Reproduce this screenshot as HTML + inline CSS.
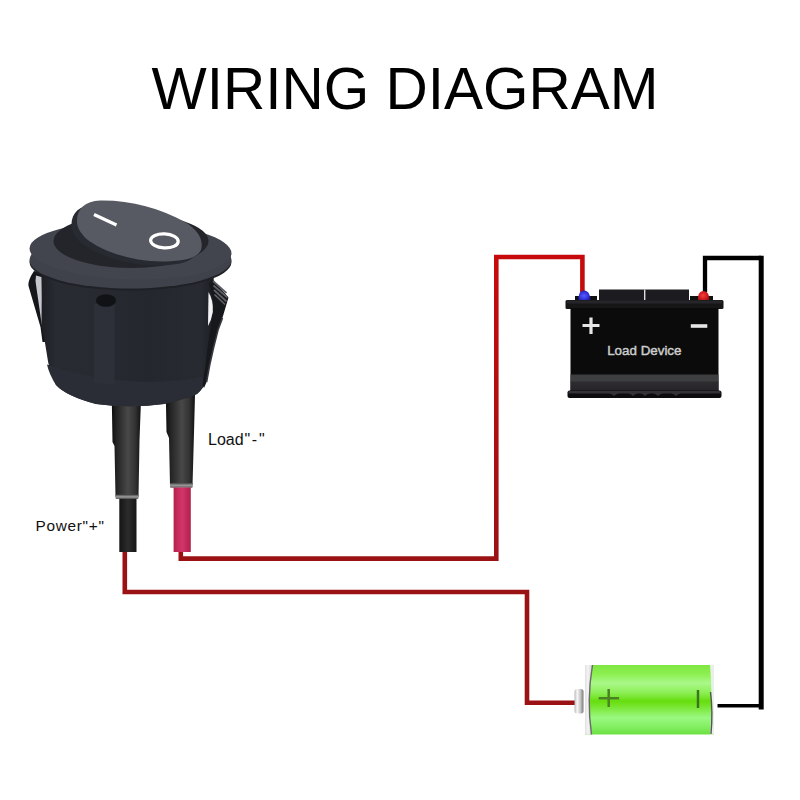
<!DOCTYPE html>
<html><head><meta charset="utf-8"><title>Wiring Diagram</title><style>
html,body{margin:0;padding:0;background:#fff;width:800px;height:800px;overflow:hidden;}
svg{display:block}
text{font-family:"Liberation Sans",sans-serif;}
</style></head><body>
<svg width="800" height="800" viewBox="0 0 800 800">
<defs>
<linearGradient id="gbat" x1="0" y1="0" x2="0" y2="1">
<stop offset="0" stop-color="#7ee640"/>
<stop offset="0.13" stop-color="#8cf050"/>
<stop offset="0.26" stop-color="#aaf88a"/>
<stop offset="0.4" stop-color="#8cef55"/>
<stop offset="0.52" stop-color="#66dd0e"/>
<stop offset="0.6" stop-color="#78e630"/>
<stop offset="0.76" stop-color="#9af882"/>
<stop offset="0.88" stop-color="#84f065"/>
<stop offset="1" stop-color="#6ee042"/>
</linearGradient>
<linearGradient id="gnub" x1="0" y1="0" x2="1" y2="0">
<stop offset="0" stop-color="#b8b8b8"/>
<stop offset="0.3" stop-color="#f8f8f8"/>
<stop offset="0.65" stop-color="#c8c8c8"/>
<stop offset="1" stop-color="#7a7a7a"/>
</linearGradient>
<linearGradient id="glcap" x1="0" y1="0" x2="1" y2="0">
<stop offset="0" stop-color="#e0e0e0"/>
<stop offset="0.4" stop-color="#f4f4f4"/>
<stop offset="1" stop-color="#cfcfcf"/>
</linearGradient>
<linearGradient id="gcap" x1="0" y1="0" x2="0" y2="1">
<stop offset="0" stop-color="#9a9a9a"/>
<stop offset="0.3" stop-color="#f4f4f4"/>
<stop offset="0.7" stop-color="#d8d8d8"/>
<stop offset="1" stop-color="#8a8a8a"/>
</linearGradient>
<linearGradient id="gpink" x1="0" y1="0" x2="1" y2="0">
<stop offset="0" stop-color="#b81e4c"/>
<stop offset="0.5" stop-color="#d3366a"/>
<stop offset="1" stop-color="#b0204c"/>
</linearGradient>
<radialGradient id="gblue" cx="0.45" cy="0.55" r="0.6">
<stop offset="0" stop-color="#5a5aff"/>
<stop offset="0.6" stop-color="#3434e0"/>
<stop offset="1" stop-color="#1a1a90"/>
</radialGradient>
<radialGradient id="gred" cx="0.45" cy="0.45" r="0.6">
<stop offset="0" stop-color="#f04040"/>
<stop offset="0.6" stop-color="#d41c1c"/>
<stop offset="1" stop-color="#901010"/>
</radialGradient>
<linearGradient id="gwire" gradientUnits="userSpaceOnUse" x1="0" y1="250" x2="0" y2="565">
<stop offset="0" stop-color="#c80a0c"/>
<stop offset="1" stop-color="#9a1214"/>
</linearGradient>
<linearGradient id="gbandlow" x1="0" y1="0" x2="0" y2="1">
<stop offset="0" stop-color="#2e2c30"/>
<stop offset="1" stop-color="#252327"/>
</linearGradient>
<linearGradient id="gbody" gradientUnits="userSpaceOnUse" x1="42" y1="0" x2="215" y2="0">
<stop offset="0" stop-color="#1d1f25"/>
<stop offset="0.08" stop-color="#292b33"/>
<stop offset="0.3" stop-color="#282a32"/>
<stop offset="0.6" stop-color="#25272f"/>
<stop offset="0.92" stop-color="#282a32"/>
<stop offset="1" stop-color="#1c1d22"/>
</linearGradient>
<linearGradient id="gring" x1="0" y1="0" x2="0" y2="1">
<stop offset="0" stop-color="#444"/>
<stop offset="0.5" stop-color="#9a9a9a"/>
<stop offset="1" stop-color="#5a5a5a"/>
</linearGradient>
<linearGradient id="glead2" x1="0" y1="0" x2="1" y2="0">
<stop offset="0" stop-color="#141414"/>
<stop offset="0.5" stop-color="#2c2c2c"/>
<stop offset="1" stop-color="#161616"/>
</linearGradient>
<linearGradient id="glead" x1="0" y1="0" x2="1" y2="0">
<stop offset="0" stop-color="#0e0e0e"/>
<stop offset="0.15" stop-color="#222"/>
<stop offset="0.55" stop-color="#484848"/>
<stop offset="0.8" stop-color="#333"/>
<stop offset="1" stop-color="#111"/>
</linearGradient>
</defs>

<!-- Title -->
<text x="151.6" y="108.6" font-size="58.5" fill="#000">WIRING DIAGRAM</text>

<!-- Wires -->
<g fill="none" stroke-linejoin="miter" stroke-linecap="butt">
<polyline points="180.8,552 180.8,558.6 496.3,558.6 496.3,257 582.4,257 582.4,292" stroke="url(#gwire)" stroke-width="4.6"/>
<polyline points="124.8,552 124.8,592 527,592 527,702.8 575,702.8" stroke="#9a1214" stroke-width="4.6"/>
<polyline points="705,292 705,258 761.2,258" stroke="#000" stroke-width="4.3"/>
<polyline points="761.2,255.85 761.2,709.5" stroke="#000" stroke-width="5"/>
<polyline points="717.5,705.8 761.2,705.8" stroke="#000" stroke-width="3.6"/>
</g>

<!-- Load device (car battery) -->
<g>
<rect x="599" y="289.5" width="90" height="12" fill="#1c1b20"/>
<rect x="644" y="289.5" width="1.4" height="11" fill="#ddd"/>
<rect x="575" y="296" width="22" height="5" fill="#111"/><path d="M578.5,300 Q578.5,293 581,291.5 Q584,289.5 587,291.5 Q590,293 590.5,300 Z" fill="url(#gblue)"/>
<rect x="690" y="296" width="23" height="5" fill="#111"/><path d="M698,301 Q697.5,294 700.5,292 Q703.5,290 706.5,292 Q709.5,294 709.2,301 Z" fill="url(#gred)"/>
<rect x="565.5" y="300" width="158" height="9" rx="1.5" fill="#161616"/><rect x="567" y="300.5" width="155" height="3" fill="#262529"/>
<rect x="570.5" y="308" width="148" height="84" fill="#0b0b0b"/>
<rect x="570.5" y="374.5" width="148" height="7.5" fill="#3c3e40"/>
<rect x="570.5" y="381.5" width="148" height="10" fill="url(#gbandlow)"/>
<rect x="567.5" y="390.5" width="154" height="7.5" rx="2" fill="#0c0b0e"/>
<path d="M568.5,391 L720.5,391 L720.5,393.5 L681,393.5 Q678,393.5 676,396 Q674,393.5 671,393.5 L663,393.5 Q660,393.5 658,396 Q656,393.5 653,393.5 L650,393.5 Q647,393.5 645,396 Q643,393.5 640,393.5 L638,393.5 Q635,393.5 633,396 Q631,393.5 628,393.5 L619,393.5 Q616,393.5 614,396 Q612,393.5 609,393.5 L568.5,393.5 Z" fill="#343236"/>
<path d="M582.5,325.5 h17 M591,317.5 v16.5" stroke="#e6e6e6" stroke-width="3.2"/>
<path d="M690.8,326 h16.5" stroke="#e6e6e6" stroke-width="3.6"/>
<text x="607.2" y="354.6" font-size="13.6" fill="#cdcdcd" stroke="#cdcdcd" stroke-width="0.45" textLength="74.3" lengthAdjust="spacingAndGlyphs">Load Device</text>
</g>

<!-- Battery (green) -->
<g>
<rect x="574.5" y="689" width="9" height="24.5" rx="2.5" fill="url(#gnub)"/>
<rect x="585" y="665" width="129" height="69.5" fill="url(#gbat)"/>
<path d="M585,665 L592.5,665 Q586.5,700 591.5,734.5 L585,734.5 Z" fill="url(#glcap)"/>
<path d="M592.5,665 Q586.5,700 591.5,734.5" fill="none" stroke="#6a6a6a" stroke-width="1.4"/>
<path d="M710,665 L714,665 L714,734.5 L710,734.5 Q713,700 710,665 Z" fill="#e8f0e8"/>
<path d="M710.5,692 Q713,712 711,734" fill="none" stroke="#555" stroke-width="1.4"/>
<path d="M598.7,698.3 h20.4 M608.7,688.9 v18" stroke="#4a8224" stroke-width="2.5"/>
<path d="M698,690 v18" stroke="#3d7420" stroke-width="2.5"/>
</g>

<!-- Leads -->
<g>
<path d="M111.8,400 L141,400 L139.5,440 L138.5,497 L115.5,497 L114.5,446 L112.5,442 Z" fill="url(#glead)"/>
<rect x="115.5" y="494.5" width="23" height="4.5" rx="1" fill="url(#gring)"/>
<rect x="119.3" y="498.8" width="17.2" height="53.2" fill="url(#glead2)"/>
<path d="M165.8,395 L195,395 L193.8,440 L192.5,485.5 L170,485.5 L169,438 L166.5,432 Z" fill="url(#glead)"/>
<rect x="170" y="483" width="22.7" height="4.7" rx="1" fill="url(#gring)"/>
<rect x="173.6" y="487.5" width="17.2" height="64.5" fill="url(#gpink)"/>
</g>

<!-- Switch -->
<g>
<!-- left clip -->
<path d="M34,271 C30,277 28,282 28.5,286 L40.5,327 L42.5,342 L46,342 L44.5,300 L44,273 Z" fill="#15161a"/>
<path d="M36,275.5 L41.5,277 L42.6,324 L41.8,325 C39.5,308 37,292 35.5,281 Z" fill="#c6c6ce"/>
<!-- body -->
<path d="M42,268 L41.5,326 Q44.5,338 46.5,352 Q49,372 56,385 Q66,396 96,404 Q130,408.5 164,404 Q186,399 197,394 Q204,388 206,380 L209,362 L212,335 L213,300 L214,268 Z" fill="url(#gbody)"/>
<path d="M47,364.5 Q128,392 207,376 L206,380 Q204,388 197,394 Q186,399 164,404 Q130,408.5 96,404 Q66,396 56,385 Q49,374 47,364.5 Z" fill="#2a2d35"/>
<path d="M94,304 L114.5,304 L114.5,385 L94,383 Z" fill="#2d3038"/>
<ellipse cx="106" cy="300.5" rx="10" ry="6.3" fill="#111216"/>
<!-- right clip -->
<path d="M212.5,279 L228.5,297.6 L223,316 L218,330 L213.6,347.5 L209.7,365 L206.6,382 L204,388 L202.5,385 L205.5,365 L208,345 L211.5,322 L213,300 L209,284 Z" fill="#17181c"/>
<path d="M222.5,318 L218,330 L213.6,347.5 L209.7,365 L206.6,382" fill="none" stroke="#383a41" stroke-width="1.6"/>
<path d="M213,281 L226.5,293 M213.5,285.5 L227.5,297.5 M214,290 L226.5,301.5 M214.5,294.5 L225,304.5" stroke="#5e6066" stroke-width="1.7"/>
<path d="M208.5,292 Q213.5,300 212.8,312 Q211.5,320 208,326 Z" fill="#f2f2f5"/>
<!-- bezel -->
<ellipse cx="130.5" cy="262" rx="101" ry="28.5" fill="#202127"/>
<ellipse cx="130.5" cy="260" rx="101" ry="28.5" fill="#3f424b"/>
<ellipse cx="130.5" cy="251" rx="101" ry="28.5" fill="#42454e" transform="rotate(1.5 130.5 251)"/>
<!-- hole -->
<ellipse cx="131" cy="241" rx="77.5" ry="27" fill="#24252a"/>
<!-- rocker -->
<path d="M77,222 C76.5,209 85,201 100,200.5 C130,200 160,208 185,222 C198,230 204,240 201,250 C197,258 185,261 165,261.5 C130,262 100,250 86,238.5 C81,233 77,228 77,222 Z" fill="#282a31" transform="translate(-5.5 4)"/>
<path d="M77,222 C76.5,209 85,201 100,200.5 C130,200 160,208 185,222 C198,230 204,240 201,250 C197,258 185,261 165,261.5 C130,262 100,250 86,238.5 C81,233 77,228 77,222 Z" fill="#585a63"/>
<path d="M94,214.5 L116.5,225" stroke="#fff" stroke-width="3.2"/>
<ellipse cx="164.4" cy="240.9" rx="13.8" ry="7" fill="none" stroke="#fff" stroke-width="3.2" transform="rotate(3 164.4 240.9)"/>
</g>

<!-- Labels -->
<text x="208" y="444.5" font-size="16" letter-spacing="0" fill="#111">Load<tspan dx="1">"</tspan><tspan dx="1.5">-</tspan><tspan dx="2">"</tspan></text>
<text x="35.5" y="530.6" font-size="15.4" letter-spacing="0.7" fill="#111">Power"+"</text>
</svg>
</body></html>
